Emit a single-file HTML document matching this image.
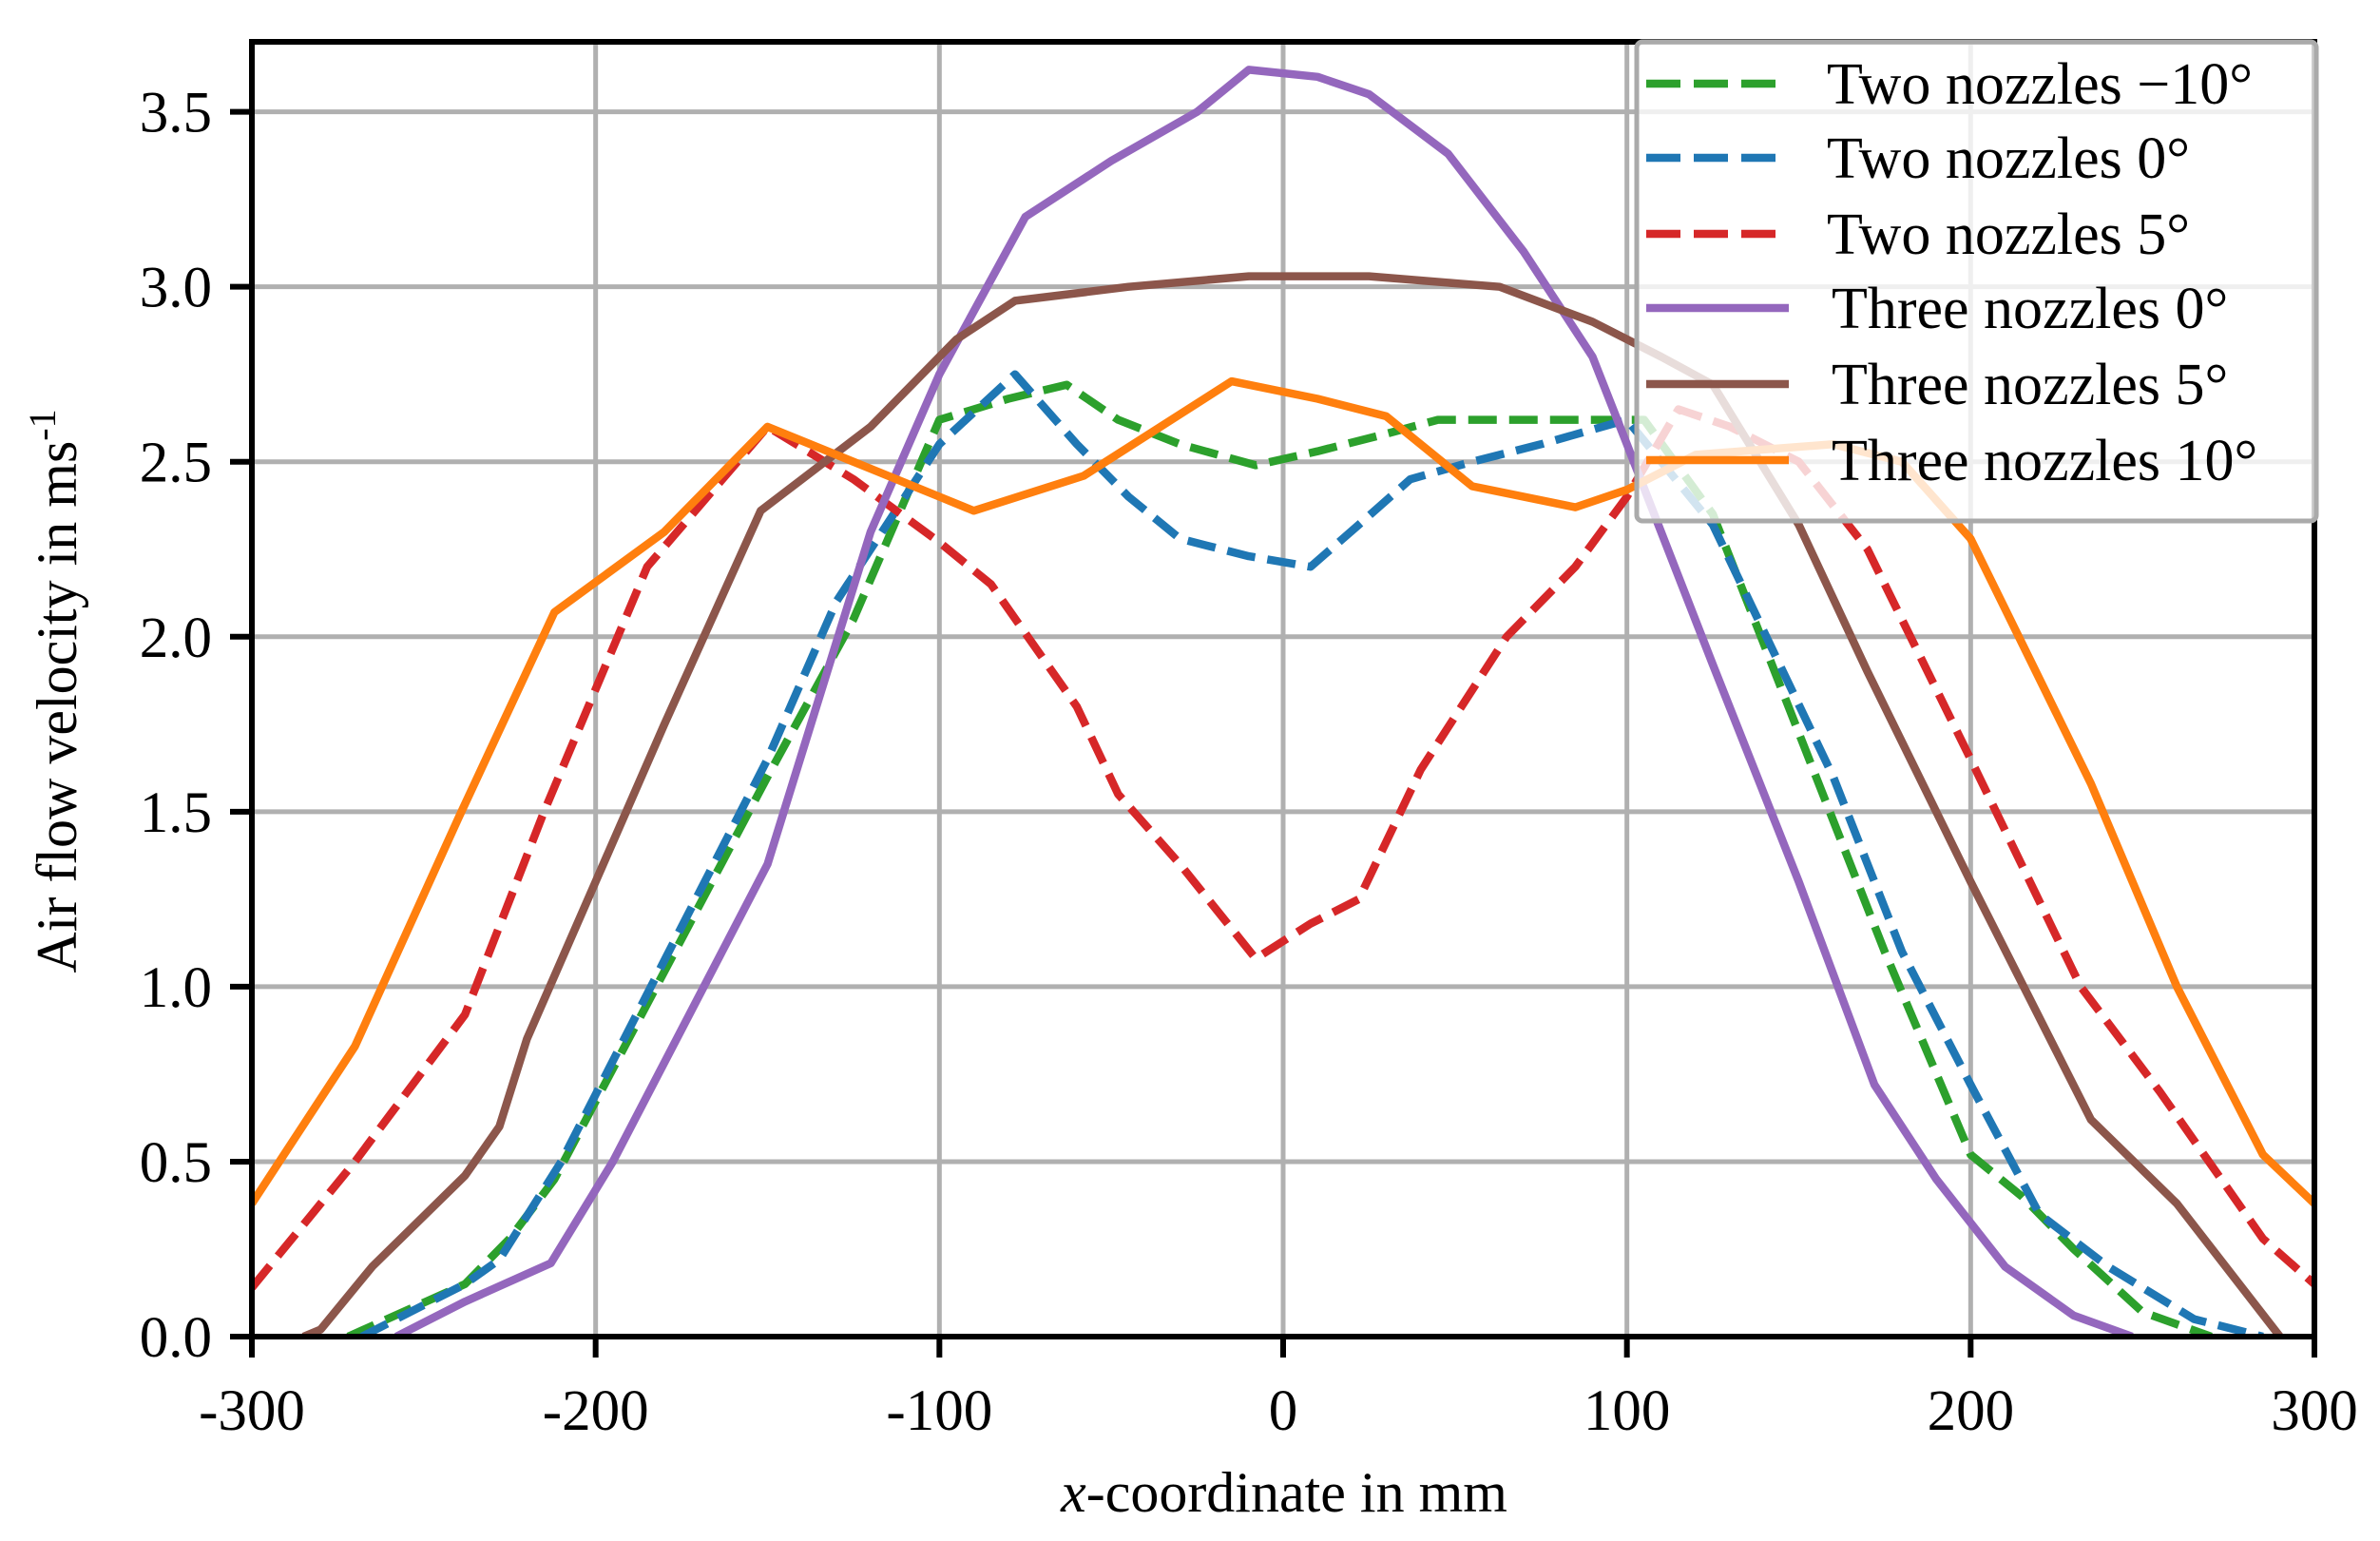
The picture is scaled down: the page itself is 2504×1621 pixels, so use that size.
<!DOCTYPE html>
<html><head><meta charset="utf-8"><style>
html,body{margin:0;padding:0;background:#fff}
svg{display:block}
text{font-family:"Liberation Serif",serif;fill:#000}
</style></head><body>
<svg id="chart" width="2504" height="1621" viewBox="0 0 2504 1621" xmlns="http://www.w3.org/2000/svg">
<rect width="2504" height="1621" fill="#fff"/>
<g id="grid"></g>
<g id="series"></g>
<g id="axes"></g>
<g id="legend"></g>
<text transform="translate(80,727) rotate(-90)" text-anchor="middle" font-size="60">Air flow velocity in ms<tspan font-size="40" dy="-22">-1</tspan></text>
<text x="1351" y="1590" text-anchor="middle" font-size="60"><tspan font-style="italic">x</tspan>-coordinate in mm</text>
</svg>
<script>
const xTicks=[-300,-200,-100,0,100,200,300];
const xTickLabels=["-300","-200","-100","0","100","200","300"];
const yTicks=[0,0.5,1,1.5,2,2.5,3,3.5];
const yTickLabels=["0.0","0.5","1.0","1.5","2.0","2.5","3.0","3.5"];
const seriesNames=["Two nozzles \u221210\u00b0","Two nozzles 0\u00b0","Two nozzles 5\u00b0","Three nozzles 0\u00b0","Three nozzles 5\u00b0","Three nozzles 10\u00b0"];
const greenX=[-272,-238,-225,-212,-150,-125,-100,-80,-63,-48,-30,-8,10,30,45,65,85,105,125,155,175,200,215,230,250,270];
const greenY=[0,0.15,0.28,0.45,1.6,2.05,2.62,2.68,2.72,2.62,2.55,2.49,2.53,2.58,2.62,2.62,2.62,2.62,2.35,1.6,1.1,0.52,0.4,0.25,0.07,0];
const blueX=[-268,-238,-228,-210,-150,-130,-110,-100,-78,-60,-45,-30,-10,8,22,37,55,75,100,125,160,180,200,220,240,265,285];
const blueY=[0,0.15,0.22,0.5,1.65,2.1,2.4,2.55,2.75,2.55,2.4,2.28,2.23,2.2,2.32,2.45,2.5,2.55,2.62,2.32,1.6,1.1,0.72,0.35,0.2,0.05,0];
const redX=[-300,-285,-270,-238,-215,-185,-150,-125,-100,-85,-60,-48,-30,-8,8,22,40,65,85,100,115,130,150,170,200,232,255,285,300];
const redY=[0.14,0.32,0.5,0.92,1.5,2.2,2.6,2.45,2.27,2.15,1.8,1.55,1.35,1.08,1.18,1.25,1.62,2.0,2.2,2.4,2.65,2.6,2.5,2.25,1.65,1.0,0.7,0.28,0.15];
const purpleX=[-258,-238,-213,-195,-150,-120,-100,-75,-50,-25,-10,10,25,48,70,90,100,125,150,172,190,210,230,247];
const purpleY=[0,0.1,0.21,0.5,1.35,2.3,2.75,3.2,3.36,3.5,3.62,3.6,3.55,3.38,3.1,2.8,2.55,1.92,1.3,0.72,0.45,0.2,0.06,0];
const brownX=[-285,-280,-265,-238,-228,-220,-180,-152,-120,-95,-78,-45,-10,25,50,63,90,110,125,150,170,200,235,260,290];
const brownY=[0,0.02,0.2,0.46,0.6,0.85,1.75,2.36,2.6,2.85,2.96,3.0,3.03,3.03,3.01,3.0,2.9,2.8,2.72,2.32,1.9,1.3,0.62,0.38,0];
const orangeX=[-300,-270,-240,-212,-180,-150,-120,-100,-90,-58,-15,10,30,55,85,100,120,160,180,200,235,260,285,300];
const orangeY=[0.38,0.83,1.48,2.07,2.3,2.6,2.48,2.4,2.36,2.46,2.73,2.68,2.63,2.43,2.37,2.42,2.52,2.55,2.5,2.28,1.58,1.0,0.52,0.38];

const L=265,R=2435,T=44,B=1406,xMin=-300,xMax=300,yMin=0,yMax=3.7;
const sx=v=>L+(v-xMin)/(xMax-xMin)*(R-L);
const sy=v=>B-(v-yMin)/(yMax-yMin)*(B-T);
const NS="http://www.w3.org/2000/svg";
function mk(tag,parent){const e=document.createElementNS(NS,tag);parent.appendChild(e);return e;}
const grid=document.getElementById('grid'),axes=document.getElementById('axes'),ser=document.getElementById('series'),leg=document.getElementById('legend');

xTicks.forEach((t,i)=>{
 const g=mk('line',grid);
 
 
 g.setAttribute('x1',sx(t));g.setAttribute('x2',sx(t));g.setAttribute('y1',T);g.setAttribute('y2',B);
 g.setAttribute('stroke','#b0b0b0');g.setAttribute('stroke-width','5');
 const tk=mk('line',axes);
 
 
 tk.setAttribute('x1',sx(t));tk.setAttribute('x2',sx(t));tk.setAttribute('y1',B);tk.setAttribute('y2',B+22);
 tk.setAttribute('stroke','#000');tk.setAttribute('stroke-width','6');
 const lb=mk('text',axes);
 
 
 lb.setAttribute('x',sx(t));lb.setAttribute('y',B+98);lb.setAttribute('text-anchor','middle');lb.setAttribute('font-size','61');
 lb.textContent=xTickLabels[i];
});
yTicks.forEach((t,i)=>{
 const g=mk('line',grid);
 
 
 g.setAttribute('x1',L);g.setAttribute('x2',R);g.setAttribute('y1',sy(t));g.setAttribute('y2',sy(t));
 g.setAttribute('stroke','#b0b0b0');g.setAttribute('stroke-width','5');
 const tk=mk('line',axes);
 
 
 tk.setAttribute('x1',L-23);tk.setAttribute('x2',L);tk.setAttribute('y1',sy(t));tk.setAttribute('y2',sy(t));
 tk.setAttribute('stroke','#000');tk.setAttribute('stroke-width','6');
 const lb=mk('text',axes);
 
 
 lb.setAttribute('x',L-42);lb.setAttribute('y',sy(t)+21);lb.setAttribute('text-anchor','end');lb.setAttribute('font-size','61');
 lb.textContent=yTickLabels[i];
});
const frame=mk('rect',axes);


frame.setAttribute('x',L);frame.setAttribute('y',T);frame.setAttribute('width',R-L);frame.setAttribute('height',B-T);
frame.setAttribute('fill','none');frame.setAttribute('stroke','#000');frame.setAttribute('stroke-width','6');

const cfg=[
 [greenX,greenY,'#2ca02c',true,'series-two-nozzles-minus10'],
 [blueX,blueY,'#1f77b4',true,'series-two-nozzles-0'],
 [redX,redY,'#d62728',true,'series-two-nozzles-5'],
 [purpleX,purpleY,'#9467bd',false,'series-three-nozzles-0'],
 [brownX,brownY,'#8c564b',false,'series-three-nozzles-5'],
 [orangeX,orangeY,'#ff7f0e',false,'series-three-nozzles-10']
];
const clip=mk('clipPath',document.getElementById('chart'));clip.setAttribute('id','pc');
const cr=mk('rect',clip);cr.setAttribute('x',L);cr.setAttribute('y',T);cr.setAttribute('width',R-L);cr.setAttribute('height',B-T);
ser.setAttribute('clip-path','url(#pc)');
cfg.forEach(c=>{
 const p=mk('polyline',ser);
 
 
 p.setAttribute('points',c[0].map((x,i)=>sx(x).toFixed(1)+','+sy(c[1][i]).toFixed(1)).join(' '));
 p.setAttribute('fill','none');p.setAttribute('stroke',c[2]);p.setAttribute('stroke-width','8.5');
 p.setAttribute('stroke-linejoin','round');
 if(c[3]) p.setAttribute('stroke-dasharray','30 13');
});

const box=mk('rect',leg);


box.setAttribute('x',1722);box.setAttribute('y',44);box.setAttribute('width',715);box.setAttribute('height',504);box.setAttribute('rx',6);
box.setAttribute('fill','rgba(255,255,255,0.8)');box.setAttribute('stroke','#aaa');box.setAttribute('stroke-width','5');
const rowsY=[88,166,246,324,404,484];
cfg.forEach((c,i)=>{
 const ln=mk('line',leg);
 
 
 ln.setAttribute('x1',1732);ln.setAttribute('x2',c[3]?1872:1882);ln.setAttribute('y1',rowsY[i]);ln.setAttribute('y2',rowsY[i]);
 ln.setAttribute('stroke',c[2]);ln.setAttribute('stroke-width','8.5');
 if(c[3]) ln.setAttribute('stroke-dasharray','36 14');
 const tx=mk('text',leg);
 
 
 tx.setAttribute('x',c[3]?1922:1927);tx.setAttribute('y',rowsY[i]+21);tx.setAttribute('font-size','62');
 tx.textContent=seriesNames[i];
});
</script>
</body></html>
